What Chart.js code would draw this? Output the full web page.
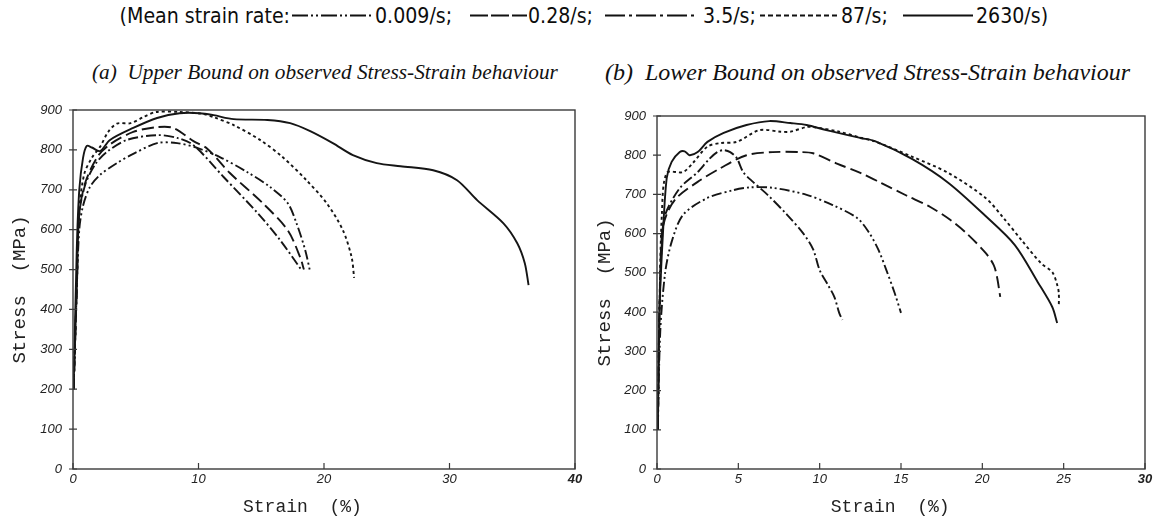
<!DOCTYPE html>
<html>
<head>
<meta charset="utf-8">
<script src="https://cdn.jsdelivr.net/npm/chart.js@4.4.1/dist/chart.umd.min.js"></script>
<style>
  html, body { margin:0; padding:0; background:#fff; }
  body { width:1158px; height:516px; position:relative; overflow:hidden; }
  .t { position:absolute; top:5px; font-family:"DejaVu Sans", sans-serif; font-size:19px; line-height:20px; color:#0d0d0d; white-space:pre; transform:scaleY(1.1); transform-origin:50% 50%; }
  .s { position:absolute; top:13px; height:5px; }
  .sub { position:absolute; font-family:"Liberation Serif", "Times New Roman", serif; font-style:italic; color:#111; white-space:pre; line-height:28px; top:58px; }
  canvas { position:absolute; }
</style>
</head>
<body>
<span class="t" style="right:868px">(Mean strain rate:</span>
<svg class="s" style="left:292px" width="82" height="5"><line x1="0" y1="2.5" x2="82" y2="2.5" stroke="#111" stroke-width="2.2" stroke-dasharray="16 3 2 3 2 3"/></svg>
<span class="t" style="left:375px">0.009/s;</span>
<svg class="s" style="left:470px" width="57" height="5"><line x1="0" y1="2.5" x2="57" y2="2.5" stroke="#111" stroke-width="2.2" stroke-dasharray="18 3"/></svg>
<span class="t" style="left:528px">0.28/s;</span>
<svg class="s" style="left:605px" width="93" height="5"><line x1="0" y1="2.5" x2="93" y2="2.5" stroke="#111" stroke-width="2.2" stroke-dasharray="20 4 3 4"/></svg>
<span class="t" style="left:703px">3.5/s;</span>
<svg class="s" style="left:760px" width="78" height="5"><line x1="0" y1="2.5" x2="78" y2="2.5" stroke="#111" stroke-width="2.2" stroke-dasharray="5 3"/></svg>
<span class="t" style="left:841px">87/s;</span>
<svg class="s" style="left:903px" width="70" height="5"><line x1="0" y1="2.5" x2="70" y2="2.5" stroke="#111" stroke-width="2.2"/></svg>
<span class="t" style="left:976px">2630/s)</span>

<span class="sub" style="left:92px; font-size:21.3px">(a)  Upper Bound on observed Stress-Strain behaviour</span>
<span class="sub" style="left:605px; font-size:24px">(b)  Lower Bound on observed Stress-Strain behaviour</span>

<canvas id="ca" width="590" height="426" style="left:0px; top:90px; width:590px; height:426px"></canvas>
<canvas id="cb" width="578" height="426" style="left:580px; top:90px; width:578px; height:426px"></canvas>

<script>
// ---------- categories ----------
const rateLabels = ['0.009/s', '0.28/s', '3.5/s', '87/s', '2630/s'];

// ---------- tick settings ----------
const aXTicks = [0, 10, 20, 30, 40];
const bXTicks = [0, 5, 10, 15, 20, 25, 30];
const yTicks = [0, 100, 200, 300, 400, 500, 600, 700, 800, 900];

// ---------- (a) Upper bound ----------
const aStrain0009 = [0.05, 0.3, 0.5, 0.8, 1.35, 2.15, 3.5, 4.8, 6.7, 8.3, 9.9, 11.7, 13.9, 15.7, 17.1, 17.8, 18.5, 18.9];
const aStress0009 = [200, 450, 600, 660, 707, 737, 767, 790, 817, 817, 805, 782, 744, 707, 667, 617, 549, 494];

const aStrain028 = [0.05, 0.3, 0.5, 1.0, 2.0, 3.0, 4.8, 6.7, 8.0, 9.6, 10.7, 12.5, 15.1, 17.1, 18.1, 18.4];
const aStress028 = [200, 450, 640, 720, 785, 815, 845, 857, 855, 822, 803, 742, 667, 599, 531, 500];

const aStrain35 = [0.05, 0.3, 0.5, 1.0, 1.8, 2.7, 4.3, 6.7, 8.3, 9.6, 12.0, 14.7, 16.5, 18.2];
const aStress35 = [200, 450, 640, 715, 765, 795, 825, 837, 830, 812, 732, 642, 574, 499];

const aStrain87 = [0.05, 0.3, 0.5, 0.9, 1.5, 2.2, 2.8, 3.5, 4.6, 5.6, 6.6, 8.5, 10.2, 11.2, 12.8, 14.9, 16.7, 18.6, 20.2, 21.5, 22.2, 22.4];
const aStress87 = [200, 450, 650, 740, 780, 810, 845, 866, 867, 882, 895, 895, 891, 882, 862, 825, 782, 724, 667, 599, 531, 479];

const aStrain2630 = [0.05, 0.3, 0.5, 0.8, 1.1, 1.5, 2.15, 2.95, 4.8, 6.7, 8.5, 10.1, 11.2, 12.8, 15.5, 17.3, 18.9, 20.7, 22.3, 24.2, 26.1, 28.7, 30.6, 32.2, 34.3, 35.4, 36.0, 36.3];
const aStress2630 = [200, 550, 700, 780, 810, 806, 797, 825, 855, 880, 892, 892, 887, 877, 875, 867, 847, 817, 787, 767, 759, 749, 724, 674, 616, 566, 516, 461];

// ---------- (b) Lower bound ----------
const bStrain0009 = [0.05, 0.2, 0.5, 0.9, 1.6, 3.1, 4.7, 5.7, 7.1, 9.2, 10.8, 12.3, 13.0, 13.6, 14.1, 14.6, 15.0];
const bStress0009 = [100, 350, 500, 579, 648, 691, 711, 718, 717, 699, 673, 640, 605, 560, 507, 450, 398];

const bStrain028 = [0.05, 0.15, 0.3, 0.6, 1.2, 2.5, 3.9, 5.5, 7.1, 8.8, 9.6, 11.1, 12.5, 13.8, 15.3, 16.8, 18.0, 19.0, 20.2, 20.7, 20.9, 21.1];
const bStress028 = [100, 400, 600, 650, 691, 732, 767, 800, 808, 808, 805, 778, 755, 729, 698, 668, 636, 602, 551, 520, 490, 439];

const bStrain35 = [0.05, 0.15, 0.3, 0.5, 1.4, 2.5, 3.2, 3.7, 4.1, 4.5, 4.9, 5.3, 5.9, 6.8, 8.0, 9.0, 9.6, 10.0, 10.5, 10.9, 11.2, 11.4];
const bStress35 = [100, 400, 580, 648, 716, 757, 790, 808, 813, 808, 793, 757, 732, 699, 648, 600, 560, 507, 470, 439, 398, 380];

const bStrain87 = [0.05, 0.15, 0.3, 0.6, 1.6, 2.2, 3.1, 3.9, 4.9, 6.3, 7.6, 8.2, 9.2, 9.6, 11.2, 12.5, 13.4, 15.7, 17.9, 20.2, 21.3, 22.4, 23.6, 24.3, 24.6, 24.7, 24.7];
const bStress87 = [100, 400, 650, 755, 757, 780, 822, 831, 834, 864, 860, 860, 872, 872, 860, 845, 835, 796, 755, 691, 640, 584, 525, 502, 470, 449, 413];

const bStrain2630 = [0.05, 0.15, 0.37, 0.6, 0.9, 1.4, 1.7, 2.0, 2.5, 3.1, 4.1, 5.5, 6.9, 8.2, 9.2, 10.4, 12.5, 13.4, 15.7, 17.9, 20.2, 22.0, 23.4, 24.3, 24.6];
const bStress2630 = [100, 400, 604, 742, 783, 808, 810, 800, 808, 834, 857, 877, 887, 882, 877, 864, 844, 836, 790, 730, 645, 571, 477, 413, 372];

// ---------- helpers ----------
const dashes = [[10, 3, 2, 3, 2, 3], [12, 5], [10, 3, 2, 3], [3, 3], []];
function pts(xs, ys) { return xs.map((x, i) => ({ x: x, y: ys[i] })); }
function makeSets(series) {
  return series.map((s, i) => ({
    label: rateLabels[i],
    data: pts(s[0], s[1]),
    showLine: true,
    borderColor: '#151515',
    borderWidth: 1.9,
    borderDash: dashes[i],
    pointRadius: 0,
    tension: 0.3,
    fill: false
  }));
}

const framePlugin = {
  id: 'frame',
  afterDraw(chart) {
    const { ctx, chartArea: a, scales } = chart;
    const x = scales.x, y = scales.y;
    ctx.save();
    ctx.strokeStyle = '#3a3a3a';
    ctx.lineWidth = 1.4;
    ctx.strokeRect(a.left, a.top, a.right - a.left, a.bottom - a.top);
    ctx.lineWidth = 1.2;
    ctx.beginPath();
    x.ticks.forEach(t => {
      const px = x.getPixelForValue(t.value);
      ctx.moveTo(px, a.bottom); ctx.lineTo(px, a.bottom - 6);
    });
    y.ticks.forEach(t => {
      const py = y.getPixelForValue(t.value);
      ctx.moveTo(a.left - 4, py); ctx.lineTo(a.left + 4, py);
    });
    ctx.stroke();
    ctx.restore();
  }
};

function makeChart(id, series, xTicks, padTop, padRight, yWidth, yTitlePad, xTitle) {
  const xMax = xTicks[xTicks.length - 1];
  return new Chart(document.getElementById(id), {
    type: 'scatter',
    data: { datasets: makeSets(series) },
    plugins: [framePlugin],
    options: {
      responsive: false,
      animation: false,
      layout: { padding: { top: padTop, right: padRight, left: 0, bottom: 0 } },
      plugins: { legend: { display: false }, title: { display: false }, tooltip: { enabled: false } },
      scales: {
        x: {
          type: 'linear', min: 0, max: xMax,
          afterBuildTicks: sc => { sc.ticks = xTicks.map(v => ({ value: v })); },
          afterFit: sc => { sc.height = 47; },
          grid: { display: false, drawTicks: false },
          border: { display: false },
          ticks: {
            padding: 3, color: '#222',
            font: c => ({ family: 'Liberation Sans', style: 'italic', size: 13, weight: (c.tick && c.tick.value === xMax) ? 'bold' : 'normal' })
          },
          title: { display: true, text: xTitle, color: '#222', padding: { top: 0, bottom: 0 },
                   font: { family: 'Liberation Mono', size: 18, lineHeight: 1 } }
        },
        y: {
          type: 'linear', min: 0, max: 900,
          afterBuildTicks: sc => { sc.ticks = yTicks.map(v => ({ value: v })); },
          afterFit: sc => { sc.width = yWidth; },
          grid: { display: false, drawTicks: false },
          border: { display: false },
          ticks: { padding: 11, color: '#222', font: { family: 'Liberation Sans', style: 'italic', size: 13 } },
          title: { display: true, text: 'Stress  (MPa)', color: '#222', padding: { top: yTitlePad, bottom: 0 },
                   font: { family: 'Liberation Mono', size: 19, lineHeight: 1 } }
        }
      }
    }
  });
}

makeChart('ca', [
  [aStrain0009, aStress0009], [aStrain028, aStress028], [aStrain35, aStress35],
  [aStrain87, aStress87], [aStrain2630, aStress2630]
], aXTicks, 20, 15, 73, 10, 'Strain  (%)    ');

makeChart('cb', [
  [bStrain0009, bStress0009], [bStrain028, bStress028], [bStrain35, bStress35],
  [bStrain87, bStress87], [bStrain2630, bStress2630]
], bXTicks, 26, 13, 77, 15, 'Strain  (%)  ');
</script>
</body>
</html>
